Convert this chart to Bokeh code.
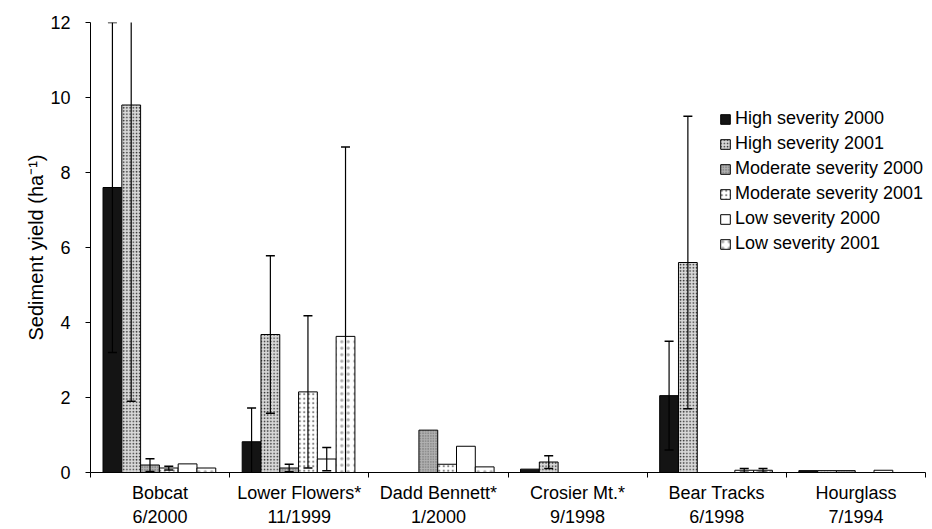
import math

from bokeh.plotting import figure
from bokeh.models import ColumnDataSource, FixedTicker, Range1d
from bokeh.embed import file_html
from bokeh.resources import INLINE

nan = math.nan

# Sites (name and fire date) along the x axis
sites = ["Bobcat", "Lower Flowers*", "Dadd Bennett*", "Crosier Mt.*", "Bear Tracks", "Hourglass"]
fire_dates = ["6/2000", "11/1999", "1/2000", "9/1998", "6/1998", "7/1994"]

series_names = [
    "High severity 2000",
    "High severity 2001",
    "Moderate severity 2000",
    "Moderate severity 2001",
    "Low severity 2000",
    "Low severity 2001",
]

# Mean sediment yield per site and severity/year, with one standard error
high_2000 = [7.6, 0.82, 0.0, 0.09, 2.05, 0.05]
high_2000_err = [4.4, 0.9, nan, nan, 1.45, nan]
high_2001 = [9.8, 3.68, 0.0, 0.28, 5.6, 0.05]
high_2001_err = [7.9, 2.1, nan, 0.17, 3.9, nan]
moderate_2000 = [0.2, 0.12, 1.13, 0.0, 0.0, 0.05]
moderate_2000_err = [0.17, 0.1, nan, nan, nan, nan]
moderate_2001 = [0.12, 2.15, 0.22, 0.0, 0.0, 0.0]
moderate_2001_err = [0.05, 2.03, nan, nan, nan, nan]
low_2000 = [0.23, 0.36, 0.7, 0.0, 0.06, 0.06]
low_2000_err = [nan, 0.31, nan, nan, 0.05, nan]
low_2001 = [0.12, 3.63, 0.15, 0.0, 0.06, 0.0]
low_2001_err = [nan, 5.05, nan, nan, 0.05, nan]

y_ticks = [0, 2, 4, 6, 8, 10, 12]

values = [high_2000, high_2001, moderate_2000, moderate_2001, low_2000, low_2001]
errors = [high_2000_err, high_2001_err, moderate_2000_err, moderate_2001_err, low_2000_err, low_2001_err]

# Fill / hatch style of each series
styles = [
    dict(fill_color="#141414"),
    dict(fill_color="#d8d8d8", hatch_pattern="dot", hatch_color="#2a2a2a", hatch_scale=3.2),
    dict(fill_color="#b2b2b2", hatch_pattern="dot", hatch_color="#5a5a5a", hatch_scale=2.6),
    dict(fill_color="#ffffff", hatch_pattern="dot", hatch_color="#333333", hatch_scale=4.5, hatch_alpha=0.6),
    dict(fill_color="#ffffff"),
    dict(fill_color="#ffffff", hatch_pattern="dot", hatch_color="#444444", hatch_scale=6.5, hatch_alpha=0.45),
]

FONT = "Liberation Sans"
GROUP_PAD = 0.09
BAR_W = 0.135

p = figure(
    width=932, height=529,
    x_range=Range1d(0, len(sites)), y_range=Range1d(0, 12),
    output_backend="svg", toolbar_location=None,
    min_border_left=90, min_border_right=7, min_border_top=22, min_border_bottom=55,
)
p.outline_line_color = None
p.xgrid.visible = False
p.ygrid.visible = False
p.background_fill_color = "white"
p.border_fill_color = "white"

for j, (name, vals, errs, st) in enumerate(zip(series_names, values, errors, styles)):
    xs = [i + GROUP_PAD + (j + 0.5) * BAR_W for i in range(len(sites))]
    src = ColumnDataSource(dict(x=xs, top=vals))
    p.vbar(x="x", top="top", bottom=0, width=BAR_W, source=src,
           line_color="black", line_width=1, legend_label=name, **st)

    ex, lo, hi = [], [], []
    for x, v, e in zip(xs, vals, errs):
        if not math.isnan(e):
            ex.append(x)
            lo.append(v - e)
            hi.append(v + e)
    esrc = ColumnDataSource(dict(x=ex, lo=lo, hi=hi))
    p.segment(x0="x", y0="lo", x1="x", y1="hi", source=esrc, line_color="black", line_width=1.2)
    p.scatter(x="x", y="hi", source=esrc, marker="dash", size=9, angle=0,
              line_color="black", line_width=1.5)
    p.scatter(x="x", y="lo", source=esrc, marker="dash", size=9, angle=0,
              line_color="black", line_width=1.5)

# x axis: site labels centred in each group, small ticks at group boundaries
centers = [i + 0.5 for i in range(len(sites))]
p.xaxis.ticker = FixedTicker(ticks=centers, minor_ticks=list(range(len(sites) + 1)))
p.xaxis.major_label_overrides = {c: f"{s}\n{d}" for c, s, d in zip(centers, sites, fire_dates)}
p.xaxis.major_tick_out = 0
p.xaxis.major_tick_in = 0
p.xaxis.minor_tick_out = 5
p.xaxis.minor_tick_in = 0
p.xaxis.major_label_standoff = 5
p.xaxis.major_label_text_font = FONT
p.xaxis.major_label_text_font_size = "18px"
p.xaxis.major_label_text_color = "black"
p.xaxis.major_label_text_line_height = 1.2
p.xaxis.axis_line_color = "black"

# y axis
p.yaxis.ticker = FixedTicker(ticks=y_ticks, minor_ticks=[])
p.yaxis.major_tick_out = 5
p.yaxis.major_tick_in = 0
p.yaxis.major_label_standoff = 15
p.yaxis.major_label_text_font = FONT
p.yaxis.major_label_text_font_size = "18px"
p.yaxis.major_label_text_color = "black"
p.yaxis.axis_line_color = "black"
p.yaxis.axis_label = "Sediment yield (ha\u207b\u00b9)"
p.yaxis.axis_label_text_font = FONT
p.yaxis.axis_label_text_font_size = "20px"
p.yaxis.axis_label_text_font_style = "normal"
p.yaxis.axis_label_text_color = "black"
p.yaxis.axis_label_standoff = 0

leg = p.legend[0]
leg.location = (629, 218)
leg.border_line_color = None
leg.background_fill_alpha = 0
leg.label_text_font = FONT
leg.label_text_font_size = "18px"
leg.label_text_color = "black"
leg.glyph_width = 12
leg.glyph_height = 12
leg.label_height = 20
leg.spacing = 4
leg.label_standoff = 4
leg.padding = 0
leg.margin = 0

open("out.html", "w").write(file_html(p, INLINE))
